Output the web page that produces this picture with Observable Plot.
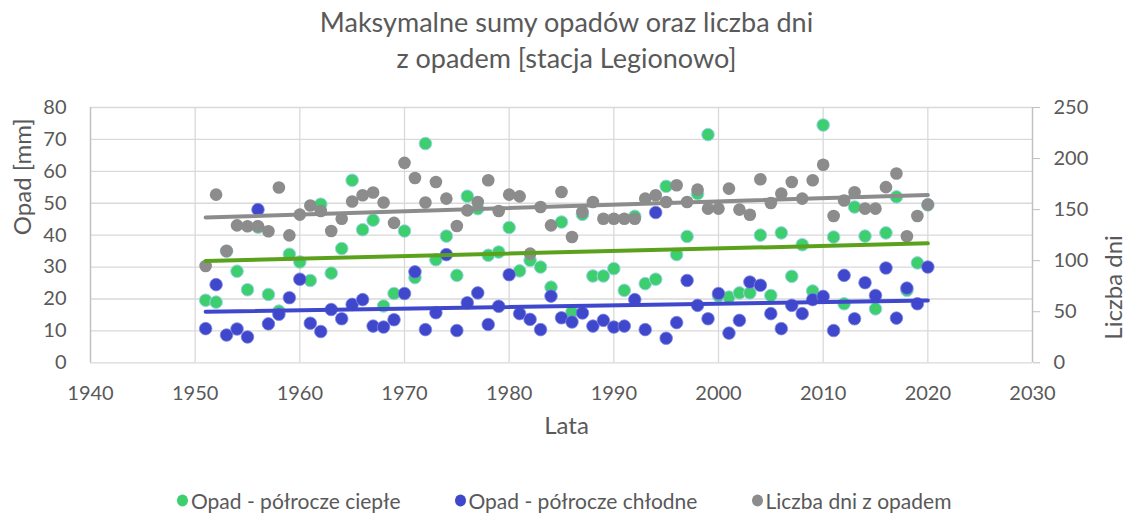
<!DOCTYPE html>
<html><head><meta charset="utf-8">
<script src="https://cdn.jsdelivr.net/npm/d3@7"></script>
<script src="https://cdn.jsdelivr.net/npm/@observablehq/plot@0.6"></script>
<style>
body{margin:0;background:#fff;font-family:Lato, sans-serif;color:#595959;}
#wrap{position:relative;width:1133px;height:516px;overflow:hidden;background:#fff}
#title{position:absolute;left:0;top:0;width:1133px;height:76px;text-align:center;font-size:27px;line-height:36px;padding-top:4px;box-sizing:border-box}
#chart{position:absolute;left:0;top:76px}
#legend{position:absolute;top:456px;left:0;width:1133px;height:60px}
.item{position:absolute;top:44px;transform:translateY(-50%);display:flex;align-items:center;font-size:21px;white-space:nowrap}
.dot{width:11px;height:12px;border-radius:50%;margin-right:3px}
</style>
</head><body>
<div id="wrap">
  <div id="title"></div>
  <div id="chart"></div>
  <div id="legend"></div>
</div>
<script>
const titleLines = ["Maksymalne sumy opadów oraz liczba dni", "z opadem [stacja Legionowo]"];
const seriesNames = ["Opad - półrocze ciepłe", "Opad - półrocze chłodne", "Liczba dni z opadem"];
const xTitle = "Lata", yLeftTitle = "Opad [mm]", yRightTitle = "Liczba dni";
const xTicks = [1940, 1950, 1960, 1970, 1980, 1990, 2000, 2010, 2020, 2030];
const yTicks = [0, 10, 20, 30, 40, 50, 60, 70, 80];
const dayTicks = [0, 50, 100, 150, 200, 250];

const years = [1951,1952,1953,1954,1955,1956,1957,1958,1959,1960,
1961,1962,1963,1964,1965,1966,1967,1968,1969,1970,
1971,1972,1973,1974,1975,1976,1977,1978,1979,1980,
1981,1982,1983,1984,1985,1986,1987,1988,1989,1990,
1991,1992,1993,1994,1995,1996,1997,1998,1999,2000,
2001,2002,2003,2004,2005,2006,2007,2008,2009,2010,
2011,2012,2013,2014,2015,2016,2017,2018,2019,2020];

const warm = [19.6,19.0,35.0,28.7,22.9,42.5,21.4,16.2,34.0,31.6,
25.8,49.7,28.1,35.8,57.2,41.7,44.7,17.8,21.7,41.3,
26.7,68.7,32.3,39.7,27.4,52.2,48.3,33.7,34.7,42.4,
28.8,32.1,30.0,23.7,44.1,15.9,46.5,27.2,27.2,29.5,
22.7,45.9,24.8,26.2,55.3,33.9,39.6,53.0,71.5,21.0,
20.6,21.9,21.9,40.0,21.1,40.7,27.1,37.0,22.5,74.5,
39.4,18.5,48.8,39.7,16.9,40.7,52.0,22.7,31.3,49.5];

const cold = [10.7,24.5,8.7,10.6,8.1,48.0,12.2,15.2,20.4,26.2,
12.4,9.8,16.7,13.8,18.3,19.8,11.5,11.2,13.5,21.7,
28.5,10.4,15.7,33.9,10.1,18.8,21.9,12.0,17.7,27.6,
15.4,13.6,10.4,20.9,14.1,12.8,15.6,11.5,13.3,11.2,
11.5,19.8,10.4,47.1,7.7,12.6,25.8,18.0,13.8,21.7,
9.3,13.3,25.3,24.3,15.4,10.7,18.0,15.4,19.8,20.8,
10.1,27.4,13.8,25.1,21.1,29.7,14.0,23.4,18.5,30.0];

const days = [94.8,164.7,109.5,134.6,133.7,133.7,128.8,171.6,124.8,145.1,
154,148.7,129,141,158,164,166.7,157,137,195.8,
181,157,177,160.8,134,149.3,157.5,178.8,148.7,164.7,
163,106.9,152.6,134.6,167.3,123.2,147.7,157.5,141,141,
141,141,160.8,164,157.5,173.9,157.5,169.6,151,151,
170.6,150,145,179.7,156.5,165.7,177,160.8,178.8,194,
143.8,159,167,151,151,172,185.3,123.9,143.8,154.9];

const colors = {warm:"#3DCF6E", cold:"#3F47CC", days:"#8C8C8C", warmTrend:"#5BA21C"};
const k = 80 / 250; // right-axis (days) to left-axis (mm) ratio

const data = years.map((y, i) => ({year: y, warm: warm[i], cold: cold[i], days: days[i]}));

document.getElementById("title").innerHTML = titleLines.map(t => `<div>${t}</div>`).join("");

const plot = Plot.plot({
  width: 1133, height: 380,
  marginLeft: 90, marginRight: 101, marginTop: 31, marginBottom: 93.7,
  x: {domain: [1940, 2030]},
  y: {domain: [0, 80]},
  style: {fontFamily: "Lato, sans-serif", fontSize: "20px", color: "#595959", background: "#fff"},
  marks: [
    Plot.gridX(xTicks, {stroke: "#D9D9D9", strokeOpacity: 1, strokeWidth: 1.3}),
    Plot.gridY(yTicks, {stroke: "#D9D9D9", strokeOpacity: 1, strokeWidth: 1.3}),
    Plot.ruleX([1940, 2030], {stroke: "#BFBFBF", strokeWidth: 1.3}),
    Plot.axisX(xTicks, {anchor: "bottom", tickSize: 0, tickPadding: 23, tickFormat: d => String(d), label: null}),
    Plot.axisY(yTicks, {anchor: "left", tickSize: 0, tickPadding: 24, label: null}),
    Plot.axisY(dayTicks.map(d => d * k), {anchor: "right", tickSize: 7, tickPadding: 14, stroke: "#BFBFBF", tickFormat: d => String(Math.round(d / k)), label: null}),
    Plot.dot(data, {x: "year", y: "warm", r: 6.3, fill: colors.warm, stroke: "#9ED3EC", strokeWidth: 1}),
    Plot.dot(data, {x: "year", y: "cold", r: 6.3, fill: colors.cold, stroke: "#7F88E0", strokeWidth: 0.8}),
    Plot.dot(data, {x: "year", y: d => d.days * k, r: 6.3, fill: colors.days}),
    Plot.linearRegressionY(data, {x: "year", y: "warm", ci: 0, stroke: colors.warmTrend, strokeWidth: 4}),
    Plot.linearRegressionY(data, {x: "year", y: "cold", ci: 0, stroke: colors.cold, strokeWidth: 4}),
    Plot.linearRegressionY(data, {x: "year", y: d => d.days * k, ci: 0, stroke: colors.days, strokeWidth: 4}),
    Plot.text([xTitle], {text: d => d, frameAnchor: "bottom", dx: 5, dy: 71, fontSize: 24, fill: "#595959"}),
    Plot.text([yLeftTitle], {text: d => d, frameAnchor: "left", dx: -67, rotate: -90, fontSize: 24, fill: "#595959"}),
    Plot.text([yRightTitle], {text: d => d, frameAnchor: "right", dx: 82, rotate: -90, fontSize: 24, fill: "#595959"})
  ]
});
document.getElementById("chart").appendChild(plot);

const legendPos = [177, 454.5, 751.5];
const legendColors = [colors.warm, colors.cold, colors.days];
document.getElementById("legend").innerHTML = seriesNames.map((n, i) =>
  `<div class="item" style="left:${legendPos[i]}px"><span class="dot" style="background:${legendColors[i]}"></span>${n}</div>`).join("");
</script>
</body></html>
